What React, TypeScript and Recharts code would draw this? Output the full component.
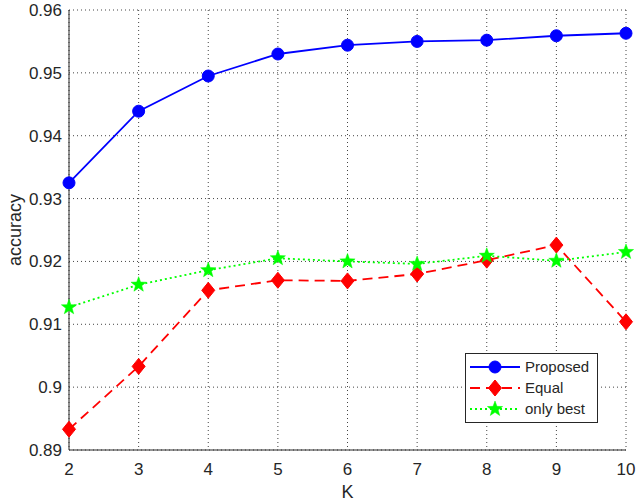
import React from 'react';
import { LineChart, Line, XAxis, YAxis, CartesianGrid } from 'recharts';

const kValues = [2, 3, 4, 5, 6, 7, 8, 9, 10];
const proposed = [0.9325, 0.9439, 0.9495, 0.953, 0.9544, 0.955, 0.9552, 0.9559, 0.9563];
const equal = [0.8933, 0.9033, 0.9154, 0.917, 0.9169, 0.918, 0.9202, 0.9226, 0.9104];
const onlyBest = [0.9127, 0.9163, 0.9186, 0.9205, 0.92, 0.9196, 0.9209, 0.9201, 0.9215];
const yTicks = [0.89, 0.9, 0.91, 0.92, 0.93, 0.94, 0.95, 0.96];
const xTicks = [2, 3, 4, 5, 6, 7, 8, 9, 10];

const data = kValues.map((k, i) => ({ k, proposed: proposed[i], equal: equal[i], onlyBest: onlyBest[i] }));

const BLUE = '#0000ff';
const RED = '#ff0000';
const GREEN = '#00ff00';
const FONT = '"Liberation Sans", Arial, Helvetica, sans-serif';
const TXT = '#262626';

function circleShape(cx: number, cy: number, key?: any) {
  return <circle key={key} cx={cx} cy={cy} r={6} fill={BLUE} stroke={BLUE} />;
}
function diamondShape(cx: number, cy: number, key?: any) {
  const w = 6.5, h = 8;
  return (
    <polygon key={key} points={`${cx},${cy - h} ${cx + w},${cy} ${cx},${cy + h} ${cx - w},${cy}`} fill={RED} stroke={RED} />
  );
}
function starShape(cx: number, cy: number, key?: any) {
  const R = 8, r = 3.3;
  const pts: string[] = [];
  for (let i = 0; i < 10; i++) {
    const rad = i % 2 === 0 ? R : r;
    const a = -Math.PI / 2 + (i * Math.PI) / 5;
    pts.push(`${cx + rad * Math.cos(a)},${cy + rad * Math.sin(a)}`);
  }
  return <polygon key={key} points={pts.join(' ')} fill={GREEN} stroke={GREEN} strokeWidth={0.5} />;
}

const legendItems = [
  { label: 'Proposed', color: BLUE, dash: undefined as string | undefined, shape: circleShape },
  { label: 'Equal', color: RED, dash: '10 6', shape: diamondShape },
  { label: 'only best', color: GREEN, dash: '2 3', shape: starShape },
];

export default function App() {
  return (
    <div style={{ position: 'absolute', left: 0, top: 0, width: 636, height: 501, background: '#fff' }}>
      <LineChart width={636} height={501} data={data} margin={{ top: 10, right: 10, left: 0, bottom: 0 }}>
        <CartesianGrid stroke="#444" strokeDasharray="1 3" strokeWidth={1} />
        <XAxis
          dataKey="k"
          type="number"
          domain={[2, 10]}
          ticks={xTicks}
          tickSize={0}
          tickMargin={13}
          height={51}
          stroke={TXT}
          tick={{ fill: TXT, fontSize: 17, fontFamily: FONT }}
          label={{ value: 'K', position: 'insideBottom', offset: 3, fill: TXT, fontSize: 18, fontFamily: FONT }}
        />
        <XAxis xAxisId="top" dataKey="k" type="number" domain={[2, 10]} orientation="top" height={0} tick={false} tickLine={false} stroke={TXT} />
        <YAxis
          type="number"
          domain={[0.89, 0.96]}
          ticks={yTicks}
          tickSize={0}
          tickMargin={7}
          width={69}
          stroke={TXT}
          tickFormatter={(v: number) => String(v)}
          tick={{ fill: TXT, fontSize: 17, fontFamily: FONT }}
          label={{ value: 'accuracy', angle: -90, position: 'center', dx: -20, fill: TXT, fontSize: 18, fontFamily: FONT }}
        />
        <YAxis yAxisId="right" type="number" domain={[0.89, 0.96]} orientation="right" width={0} tick={false} tickLine={false} stroke={TXT} />
        <Line
          dataKey="proposed"
          stroke={BLUE}
          strokeWidth={1.8}
          isAnimationActive={false}
          dot={(p: any) => circleShape(p.cx, p.cy, `p${p.index}`)}
        />
        <Line
          dataKey="equal"
          stroke={RED}
          strokeWidth={1.8}
          strokeDasharray="10 6"
          isAnimationActive={false}
          dot={(p: any) => diamondShape(p.cx, p.cy, `e${p.index}`)}
        />
        <Line
          dataKey="onlyBest"
          stroke={GREEN}
          strokeWidth={1.8}
          strokeDasharray="2 3"
          isAnimationActive={false}
          dot={(p: any) => starShape(p.cx, p.cy, `o${p.index}`)}
        />
      </LineChart>
      <svg style={{ position: 'absolute', left: 465, top: 353 }} width={133} height={70}>
        <rect x={0.5} y={0.5} width={132} height={69} fill="#fff" stroke="#262626" strokeWidth={1} />
        {legendItems.map((it, i) => {
          const cy = 14 + i * 21;
          return (
            <g key={it.label}>
              <line x1={5} y1={cy} x2={55} y2={cy} stroke={it.color} strokeWidth={1.8} strokeDasharray={it.dash} />
              {it.shape(30, cy)}
              <text x={60} y={cy} dy="0.35em" fontSize={15} fontFamily={FONT} fill={TXT}>{it.label}</text>
            </g>
          );
        })}
      </svg>
    </div>
  );
}
